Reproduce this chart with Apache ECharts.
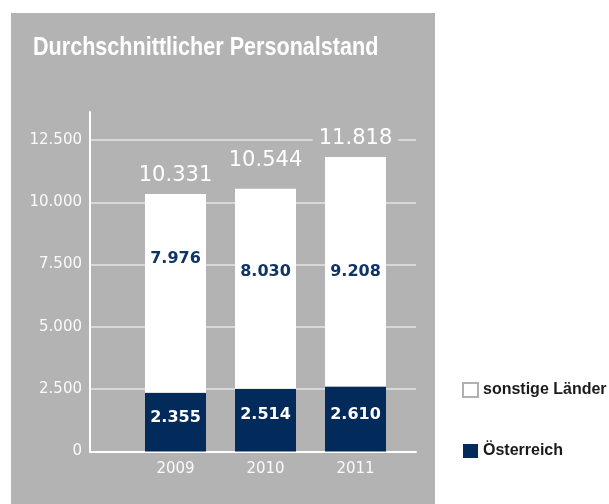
<!DOCTYPE html>
<html>
<head>
<meta charset="utf-8">
<script src="https://cdn.jsdelivr.net/npm/echarts@6/dist/echarts.min.js"></script>
<style>html,body{margin:0;padding:0;background:#fff}#c{width:609px;height:504px}</style>
</head>
<body>
<div id="c"></div>
<script>
var years = ['2009', '2010', '2011'];
var oesterreich = [2355, 2514, 2610];
var sonstige = [7976, 8030, 9208];
var totals = [10331, 10544, 11818];
var yTicks = [0, 2500, 5000, 7500, 10000, 12500];
var titleText = 'Durchschnittlicher Personalstand';

var NAVY = '#022b5b';
var GRAY = '#b3b3b3';
function fmt(n) { return String(n).replace(/\B(?=(\d{3})+(?!\d))/g, '.'); }

// label placement tweaks (style only)
var innerOff = [-35, -17, 0];
var darkOff = [-4, -5, -4];
var totalDist = [8, 18, 8];

var chart = echarts.init(document.getElementById('c'), null, {renderer: 'canvas'});
var gTop = 140, gBottom = 52.5;
var option = {
  animation: false,
  backgroundColor: '#fff',
  graphic: [
    {type: 'rect', z: -10, shape: {x: 11, y: 13, width: 424, height: 495}, style: {fill: GRAY}},
    {type: 'text', x: 33, y: 48, scaleX: 0.83, z: 5,
     style: {text: titleText, fill: '#fff', font: "bold 26px 'Liberation Sans', Arial, sans-serif", verticalAlign: 'middle', align: 'left'}}
  ],
  legend: {
    orient: 'vertical', left: 457, top: 377, itemWidth: 15, itemHeight: 14, itemGap: 45,
    selectedMode: false, icon: 'rect',
    textStyle: {color: '#1a1a1a', fontFamily: "'Liberation Sans', Arial, sans-serif", fontWeight: 'bold', fontSize: 16, padding: [0, 0, 0, 0]},
    data: [
      {name: 'sonstige Länder', itemStyle: {color: '#fff', borderColor: '#b0b0b0', borderWidth: 2}},
      {name: 'Österreich', itemStyle: {color: NAVY}}
    ]
  },
  grid: [
    {left: 90, right: 193, top: 112, bottom: gBottom},
    {left: 90, right: 193, top: gTop, bottom: gBottom},
    {left: 130.5, width: 270, top: gTop, bottom: gBottom}
  ],
  xAxis: [
    {gridIndex: 0, type: 'value', min: 0, max: 1, axisLine: {show: true, onZero: false, lineStyle: {color: '#fff', width: 2}}, axisTick: {show: false}, axisLabel: {show: false}, splitLine: {show: false}},
    {gridIndex: 1, type: 'value', min: 0, max: 1, show: false},
    {gridIndex: 2, type: 'category', data: years, axisLine: {show: false}, axisTick: {show: false},
     axisLabel: {color: '#fafafa', fontFamily: 'DejaVu Sans', fontSize: 15, margin: 10}}
  ],
  yAxis: [
    {gridIndex: 0, type: 'value', min: 0, max: 1, axisLine: {show: true, onZero: false, lineStyle: {color: '#fff', width: 2}}, axisTick: {show: false}, axisLabel: {show: false}, splitLine: {show: false}},
    {gridIndex: 1, type: 'value', min: yTicks[0], max: yTicks[yTicks.length - 1], interval: 2500,
     axisLine: {show: false}, axisTick: {show: false},
     axisLabel: {color: '#fafafa', fontFamily: 'DejaVu Sans', fontSize: 15, margin: 8, formatter: function (v) { return fmt(v); }},
     splitLine: {show: true, lineStyle: {color: '#e4e4e4', width: 1.5}}},
    {gridIndex: 2, type: 'value', min: yTicks[0], max: yTicks[yTicks.length - 1], show: false}
  ],
  series: [
    {
      name: 'Österreich', type: 'bar', xAxisIndex: 2, yAxisIndex: 2, stack: 'p', barWidth: 61,
      itemStyle: {color: NAVY},
      data: oesterreich.map(function (v, i) {
        return {value: v, label: {offset: [0, darkOff[i]]}};
      }),
      label: {show: true, position: 'inside', color: '#fff', fontFamily: 'DejaVu Sans', fontWeight: 'bold', fontSize: 16,
        formatter: function (p) { return fmt(p.value); }}
    },
    {
      name: 'sonstige Länder', type: 'bar', xAxisIndex: 2, yAxisIndex: 2, stack: 'p', barWidth: 61,
      itemStyle: {color: '#fff'},
      data: sonstige.map(function (v, i) {
        return {value: v, label: {offset: [0, innerOff[i]]}};
      }),
      label: {show: true, position: 'inside', color: '#0e3566', fontFamily: 'DejaVu Sans', fontWeight: 'bold', fontSize: 16,
        formatter: function (p) { return fmt(p.value); }}
    },
    {
      name: 'Gesamt', type: 'bar', xAxisIndex: 2, yAxisIndex: 2, barWidth: 61, barGap: '-100%', z: 1, silent: true,
      itemStyle: {color: 'rgba(0,0,0,0)'},
      data: totals.map(function (v, i) {
        return {value: v, label: {distance: totalDist[i]}};
      }),
      label: {show: true, position: 'top', color: '#fff', fontFamily: 'DejaVu Sans', fontSize: 21,
        backgroundColor: GRAY, padding: [0, 6],
        formatter: function (p) { return fmt(p.value); }}
    }
  ]
};
chart.setOption(option);
</script>
</body>
</html>
